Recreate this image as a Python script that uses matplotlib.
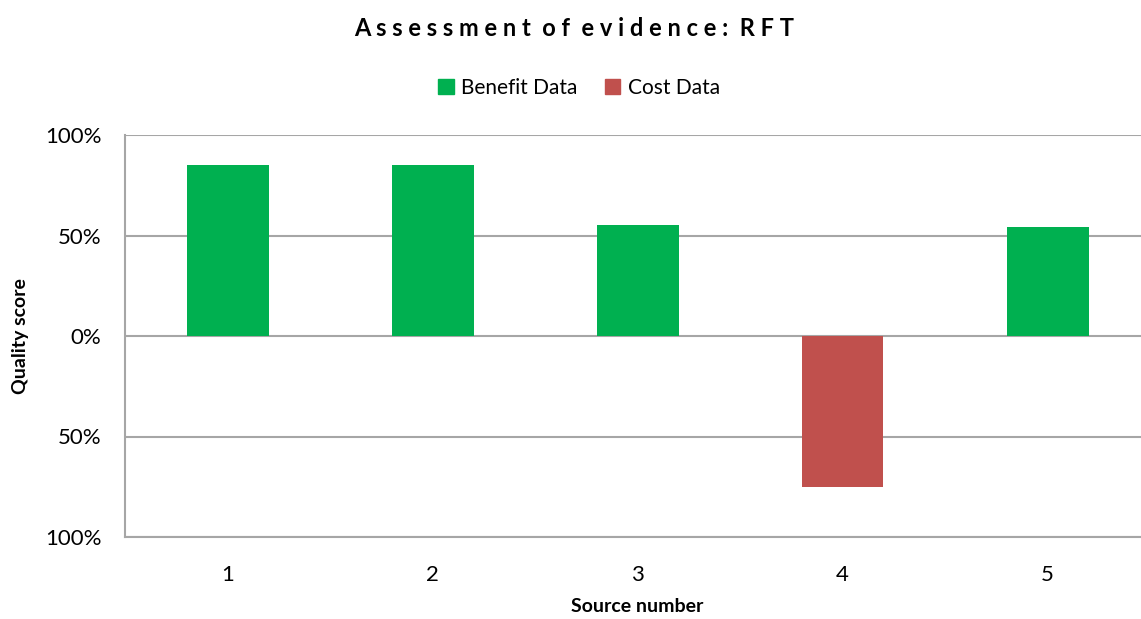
import matplotlib
matplotlib.use("Agg")
import matplotlib.pyplot as plt
from matplotlib.ticker import FuncFormatter
from matplotlib.patches import Patch

plt.rcParams['font.family'] = ['Lato', 'DejaVu Sans']

sources = [1, 2, 3, 4, 5]
benefit = [0.85, 0.85, 0.55, 0, 0.54]
cost = [0, 0, 0, -0.75, 0]

green = "#00B050"
red = "#C0504D"
gridcol = "#A6A6A6"

fig = plt.figure(figsize=(11.41, 6.19), dpi=100)
ax = fig.add_axes([125/1141, 82/619, 1025/1141, 402/619])

ax.bar(sources, benefit, width=0.4, color=green, zorder=3)
ax.bar(sources, cost, width=0.4, color=red, zorder=3)

ax.set_xlim(0.5, 5.5)
ax.set_ylim(-1, 1)
ax.set_yticks([-1, -0.5, 0, 0.5, 1])
ax.yaxis.set_major_formatter(FuncFormatter(lambda v, p: f"{abs(v)*100:.0f}%"))
ax.set_xticks(sources)
ax.tick_params(axis='both', length=0, labelsize=16)
ax.tick_params(axis='y', pad=17)
ax.tick_params(axis='x', pad=20)
ax.grid(axis='y', color=gridcol, linewidth=1.5, zorder=0)
for s in ['top', 'right']:
    ax.spines[s].set_visible(False)
for s in ['left', 'bottom']:
    ax.spines[s].set_color(gridcol)
    ax.spines[s].set_linewidth(1.5)

ax.set_xlabel("Source number", fontsize=14, fontweight='bold')
ax.set_ylabel("Quality score", fontsize=14, fontweight='bold')
ax.xaxis.set_label_coords((637-125)/1025, -(598-537)/402)
ax.yaxis.set_label_coords(-(125-29)/1025, 0.5)

title = "  ".join(" ".join(w) for w in "Assessment of evidence: RFT".split(" "))
fig.text(574/1141, 1-28/619, title, ha='center', va='center', fontsize=17, fontweight='bold')

handles = [Patch(color=green, label="Benefit Data"), Patch(color=red, label="Cost Data")]
fig.legend(handles=handles, loc='center', bbox_to_anchor=(579/1141, 1-88/619), ncol=2,
           frameon=False, fontsize=15, handlelength=0.75, handleheight=0.75, handletextpad=0.35,
           columnspacing=1.3)

fig.savefig("out.png", dpi=100)
